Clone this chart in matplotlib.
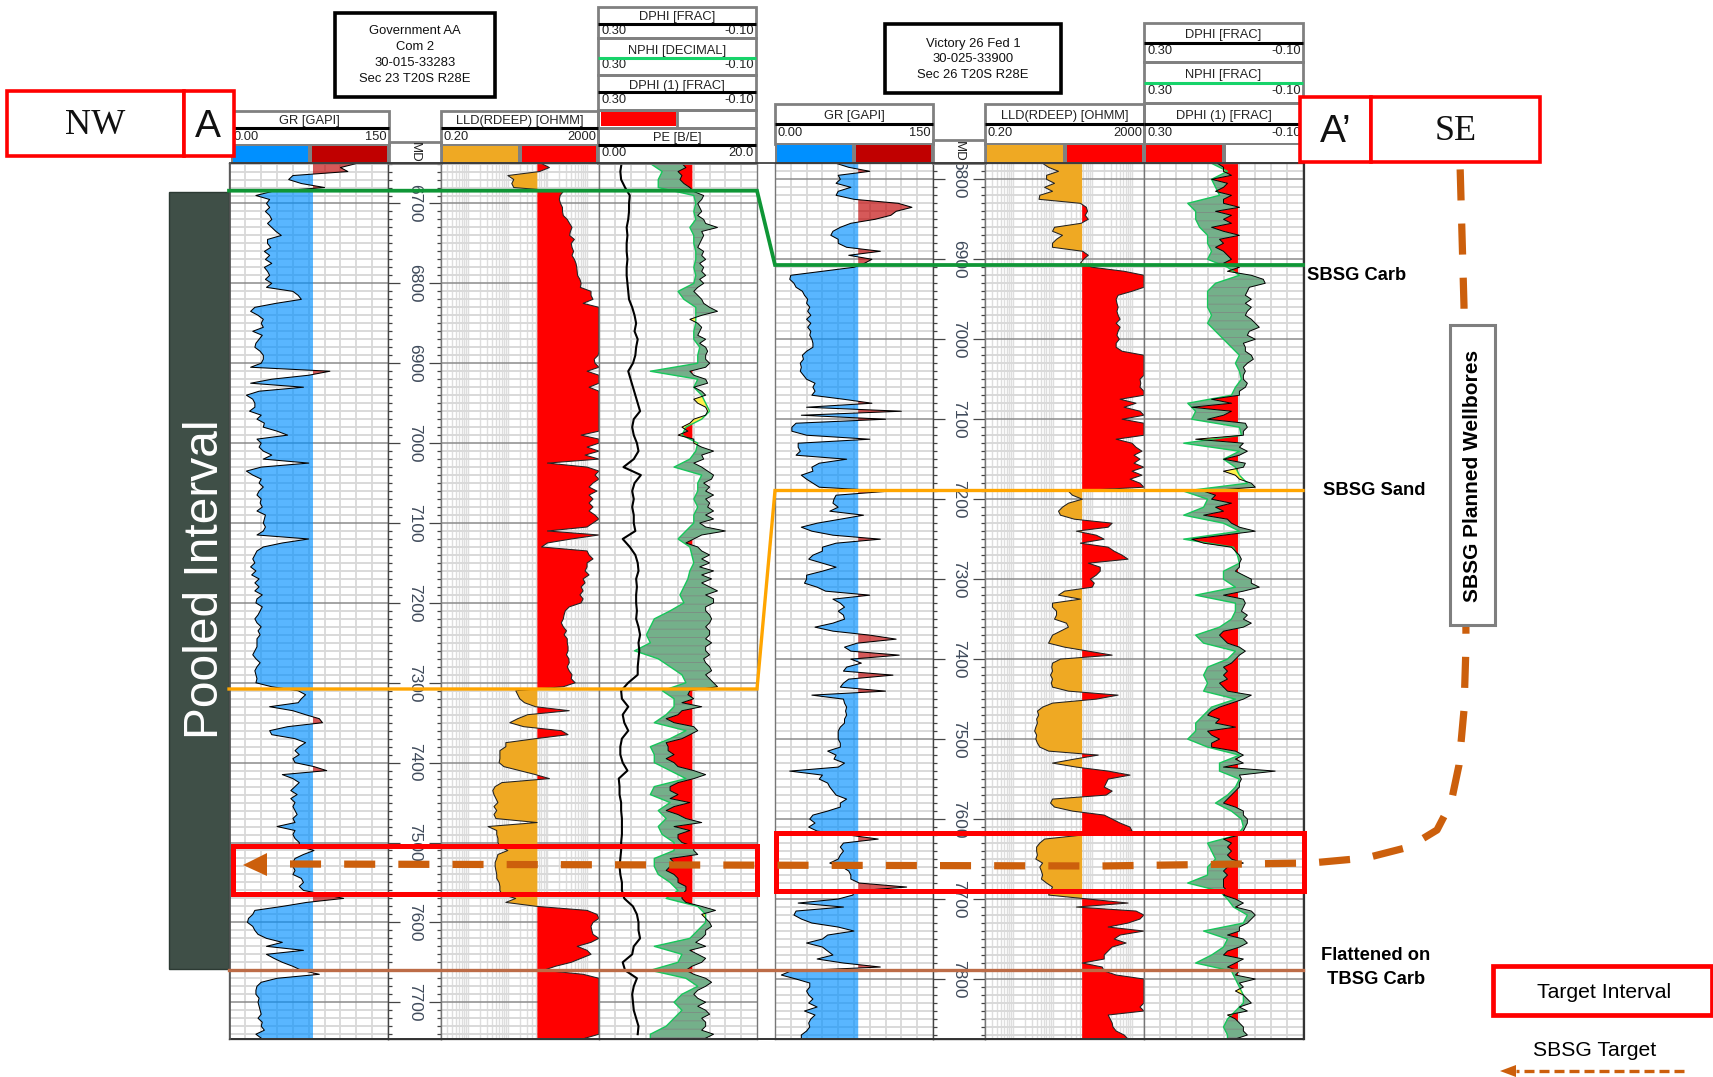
import numpy as np
import matplotlib
matplotlib.use("Agg")
import matplotlib.pyplot as plt
from matplotlib.patches import Rectangle, Polygon

plt.rcParams['hatch.linewidth'] = 0.6

W, H = 1713, 1077
NARROW = ['Liberation Sans Narrow', 'Liberation Sans']
SANS = ['Liberation Sans']
SERIF = ['Liberation Serif']

# ---------- left well: Government AA Com 2 (5 ft sampling from 6650 ft) ----------
L_START = 6650
L_GR = [120,105,112,60,56,68,90,40,25,38,35,38,34,38,40,36,40,44,49,36,
 36,39,33,38,34,40,33,36,38,34,40,35,60,65,68,44,24,20,27,32,
 30,32,22,31,28,25,24,29,32,32,30,20,95,75,40,20,70,28,16,22,
 24,24,19,30,26,33,32,45,55,26,30,28,32,40,32,75,30,16,22,30,
 28,32,28,26,30,29,31,26,34,33,32,34,32,26,75,50,32,26,24,22,
 24,20,25,21,28,24,28,24,31,26,25,31,29,27,24,26,30,27,29,26,
 26,26,24,22,25,29,26,24,25,26,25,40,65,72,68,65,38,60,72,85,
 88,55,38,40,62,72,66,62,66,60,62,80,92,50,60,66,62,58,64,58,
 62,60,62,64,60,62,45,62,60,62,66,66,80,70,62,60,60,62,60,68,
 70,66,70,90,108,73,50,24,22,18,17,22,24,27,35,50,35,70,35,42,
 50,60,68,85,45,30,26,25,25,28,27,28,29,30,27,31,30,33,25,30]
L_LLD = [1.85,2.05,1.8,1.0,1.15,1.1,1.15,2.4,2.32,2.3,2.33,2.38,2.38,2.4,2.5,2.56,2.62,2.58,2.56,2.68,
 2.6,2.62,2.66,2.62,2.68,2.72,2.74,2.75,2.76,2.82,2.85,2.83,3.1,3.1,3.15,2.9,3.3,3.3,3.3,3.3,
 3.3,3.3,3.3,3.3,3.3,3.3,3.3,3.3,3.28,3.18,3.2,3.3,3.0,3.3,3.3,3.3,3.05,3.3,3.3,3.3,
 3.3,3.3,3.3,3.3,3.3,3.3,3.3,3.3,2.85,3.3,3.3,3.0,3.3,2.95,3.3,2.0,3.0,3.3,3.2,3.3,
 3.15,3.05,3.25,3.05,3.15,3.05,3.15,3.05,3.2,3.3,3.15,3.0,2.0,3.3,2.6,2.0,1.85,3.0,3.05,3.15,
 3.0,3.0,2.95,3.05,2.9,2.95,2.85,2.9,2.82,2.9,2.85,2.55,2.45,2.42,2.4,2.35,2.4,2.48,2.42,2.5,
 2.5,2.52,2.52,2.48,2.54,2.55,2.5,2.55,2.62,2.6,2.7,2.4,1.2,1.25,1.3,1.42,1.7,2.55,1.5,1.25,
 1.05,1.4,2.35,2.52,1.7,0.95,0.95,0.8,0.8,0.8,0.78,0.9,1.3,1.7,2.05,0.85,0.68,0.62,0.65,0.7,
 0.75,0.65,0.72,0.65,0.7,1.74,0.5,0.72,0.72,0.75,0.75,0.8,1.0,0.75,0.72,0.68,0.68,0.7,0.72,0.72,
 0.78,0.8,0.8,0.85,1.2,0.95,1.74,3.0,3.25,3.3,3.15,3.1,3.12,3.15,3.3,3.1,2.75,3.0,3.1,2.85,
 2.6,2.2,1.9,2.9,3.3,3.3,3.3,3.3,3.3,3.3,3.3,3.3,3.3,3.3,3.3,3.3,3.3,3.3,3.3,2.95]
L_DPHI = [.09,.08,.1,.09,.095,.085,.07,.06,.035,.04,.05,.045,.04,.05,.035,.03,0,.04,.035,.04,
 .045,.05,.035,.04,.03,.045,.035,.04,.03,.045,.035,.05,.06,.05,.04,.035,.02,0,.04,.07,
 .05,.04,.045,.05,.03,.045,.03,.025,.03,.03,.02,.03,.07,.06,.03,.025,.06,.04,.03,.06,
 .05,.03,.025,.03,.06,.07,.09,.075,.1,.06,.06,.04,.01,.04,.035,.06,.04,.025,.01,.015,
 .035,.02,.03,.01,.03,.02,.025,.01,.03,.01,.045,.03,-.02,.04,.06,.08,.05,.04,.02,.04,
 .02,.045,.01,.04,.015,.04,.02,0,.03,.01,.01,.03,.03,.02,.015,.02,.03,.02,.02,.03,
 .015,.03,.03,.02,.035,.03,.02,.015,.03,.02,.01,0,.07,.075,.06,.09,.04,.09,.1,.13,
 .11,.06,.05,.07,.09,.13,.125,.125,.11,.13,.11,.1,.06,.03,.06,.1,.12,.12,.1,.12,
 .07,.11,.13,.1,.08,.04,.11,.07,.1,.1,.09,.06,.06,.05,.12,.11,.12,.13,.11,.1,
 .1,.08,.08,.09,.09,.08,.04,.005,.04,.03,.02,.015,.03,.03,.04,.055,.03,.07,.05,.03,
 .04,.065,.08,.06,.03,.015,.03,.05,.06,.05,.03,.05,.03,.02,.04,.03,.03,.04,.01,.03]
# NPHI and PE at 10 ft sampling
L_NPHI = [.17,.14,.15,.15,.06,.055,.06,.055,.07,.06,
 .06,.055,.055,.06,.055,.06,.1,.085,.055,.055,
 .055,.06,.06,.045,.05,.05,.17,.05,.06,.04,
 .03,.02,.04,.08,.09,.05,.055,.07,.11,.04,
 .05,.05,.06,.05,.06,.06,.08,.1,.07,.065,
 .06,.07,.075,.085,.095,.085,.12,.16,.17,.18,
 .17,.21,.15,.12,.09,.08,.14,.11,.11,.13,
 .16,.08,.12,.17,.16,.16,.12,.08,.16,.17,
 .12,.15,.13,.15,.14,.11,.11,.16,.16,.15,
 .12,.1,.13,.05,.03,.03,.05,.07,.16,.09,
 .1,.17,.08,.05,.09,.11,.09,.11,.13,.17]
L_PE = [2.85,2.7,2.8,3.3,3.9,3.8,3.8,3.7,3.5,3.6,
 3.5,3.5,3.6,3.5,3.5,3.6,3.7,3.8,4.2,4.5,
 4.7,4.5,4.9,4.7,4.6,4.3,3.7,4.0,4.3,4.6,
 4.9,5.2,4.4,4.2,4.4,4.8,5.0,4.4,3.1,5.3,
 4.5,4.2,4.4,4.2,4.4,4.4,4.6,3.0,3.9,4.6,
 4.9,5.0,4.7,4.8,4.7,4.7,4.8,4.7,5.0,5.2,
 5.0,5.1,5.0,4.9,4.9,3.7,2.8,2.9,3.7,3.0,
 3.2,3.7,2.9,2.7,2.7,3.0,3.6,2.5,2.6,2.6,
 2.8,2.8,2.9,2.9,2.9,2.8,2.8,2.7,2.6,2.7,
 2.9,2.9,3.2,4.3,4.8,5.0,5.0,5.2,4.4,4.2,
 3.0,3.3,4.8,4.4,4.2,4.3,4.4,4.7,5.0,4.9]

# ---------- right well: Victory 26 Fed 1 (5 ft sampling from 6780 ft) ----------
R_START = 6780
R_GR = [58,70,90,60,62,58,72,60,58,75,117,130,115,110,95,72,62,55,53,60,
 60,68,100,70,92,85,75,45,15,14,18,20,26,28,31,30,33,31,34,30,
 34,31,34,33,35,36,36,30,26,27,24,25,24,27,30,38,36,38,35,65,
 92,30,120,25,105,20,16,16,30,90,22,22,24,20,68,42,35,36,25,30,
 36,42,108,58,56,55,60,52,84,62,40,25,35,55,100,58,45,45,36,32,
 45,58,45,30,30,28,40,48,90,55,62,66,60,65,66,55,38,55,90,115,
 78,66,72,118,72,82,68,65,112,70,65,62,105,35,65,66,68,67,68,66,
 66,62,60,60,60,62,62,50,58,56,66,60,14,45,42,50,52,55,58,68,
 62,62,50,36,33,38,32,40,70,98,65,62,65,62,60,52,64,70,72,72,
 80,125,75,74,60,22,65,20,18,25,35,60,75,50,45,30,45,50,55,40,
 65,100,15,6,20,33,33,30,32,36,32,40,28,38,34,32,33,30,25,25]
R_LLD = [.75,.9,1.15,.85,.85,1.05,.8,1.0,.68,.66,1.7,1.85,1.88,1.82,1.9,1.72,1.05,1.0,1.25,1.1,
 1.0,1.0,1.76,1.9,1.78,1.7,2.0,2.8,3.3,3.3,3.3,3.3,3.0,2.65,2.6,2.62,2.65,2.62,2.65,2.7,
 2.6,2.7,2.65,2.62,2.68,2.6,2.6,2.75,3.3,3.3,3.3,3.3,3.3,3.3,3.2,3.22,3.2,3.3,3.3,2.7,
 3.1,2.8,3.2,3.3,2.75,3.3,3.3,3.3,3.3,2.6,3.0,3.1,3.25,3.05,3.2,3.05,3.3,3.0,3.25,2.95,
 3.2,3.3,1.4,1.5,1.75,1.4,1.25,1.15,1.2,1.55,2.5,2.4,1.6,2.1,2.3,1.7,2.4,2.55,2.75,2.9,
 1.9,2.2,2.2,2.1,1.95,2.05,2.0,1.3,1.15,1.7,1.0,1.0,1.1,1.1,1.05,1.35,1.4,1.2,1.0,.95,
 .9,1.3,1.9,2.5,1.2,1.0,.98,1.0,.95,1.0,.97,1.0,1.4,2.65,2.1,1.0,.75,.62,.65,.6,
 .62,.58,.55,.6,.58,.62,.68,.9,2.15,1.55,1.0,1.6,2.4,2.95,2.4,2.35,2.3,2.5,2.35,1.0,
 .95,1.05,1.5,2.3,2.5,2.7,2.95,3.0,1.74,.8,.68,.6,.6,.62,.58,.75,.68,.72,.75,.72,
 .85,1.0,.95,.9,1.9,2.9,1.6,3.1,3.3,3.2,2.9,2.4,3.3,2.7,2.55,2.85,2.5,2.4,2.3,2.3,
 1.75,2.25,2.3,2.6,3.3,3.3,3.3,3.3,3.3,3.3,3.3,3.2,3.3,2.4,2.45,2.5,2.52,2.6,2.8,2.9]
R_DPHI = [.115,.1,.1,.08,.13,.09,.1,.12,.08,.1,.1,.06,.12,.08,.1,.08,.13,.1,.06,.11,
 .1,.12,.1,.09,.08,.1,.06,.09,.03,0,-.005,.035,.04,.045,.03,.045,.03,.04,.045,.03,
 .02,.01,.035,.04,.02,.05,.045,.045,.03,.025,.04,.05,.045,.05,.05,.04,.045,.06,.06,.13,
 .08,.18,.08,.1,.14,.045,.04,.05,.05,.17,.05,.06,.04,.06,.1,.045,.05,.1,.07,.06,
 .03,.02,.15,.12,.13,.08,.12,.1,.15,.09,.08,.06,.02,.1,.18,.15,.08,.07,.06,.055,
 .06,.06,.07,.05,.03,.03,.01,.05,.1,.05,.045,.05,.055,.04,.05,.03,.05,.1,.11,.1,
 .09,.06,.045,.06,.07,.08,.1,.09,.1,.09,.11,.1,.09,.03,.05,.08,.11,.13,.14,.11,
 .12,.07,.14,.13,.11,.13,.13,.07,.05,.07,.05,.1,-.03,.06,.055,.06,.06,.07,.08,.09,
 .1,.07,.05,.05,.04,.04,.045,.05,.06,.1,.08,.09,.08,.09,.08,.05,.09,.1,.09,.1,
 .1,.1,.09,.1,.07,.05,.07,.03,.02,.03,.04,.06,.06,.09,.05,.04,.06,.09,.1,.05,
 .07,.09,.06,.07,.02,.06,.05,.07,.05,.04,.03,.06,.04,.09,.07,.06,.05,.05,.04,.07]
R_NPHI = [.13,.09,.13,.12,.11,.19,.17,.17,.16,.14,
 .14,.13,.14,.09,.06,.12,.14,.14,.14,.13,
 .14,.12,.1,.08,.06,.07,.06,.055,.07,.08,
 .19,.17,.18,.06,.055,.2,.06,.1,.07,.06,
 .04,.2,.14,.15,.2,.1,.06,.2,.075,.065,
 .06,.1,.1,.07,.17,.07,.07,.08,.11,.17,
 .15,.07,.09,.14,.15,.14,.15,.07,.13,.15,
 .17,.17,.19,.14,.06,.11,.11,.06,.07,.09,
 .12,.08,.055,.05,.065,.14,.13,.12,.14,.14,
 .19,.11,.09,.075,.04,.05,.15,.09,.1,.13,
 .17,.08,.07,.06,.05,.05,.07,.09,.1,.09]

L_DEPTH_LABELS = [6700,6800,6900,7000,7100,7200,7300,7400,7500,7600,7700]
R_DEPTH_LABELS = [6800,6900,7000,7100,7200,7300,7400,7500,7600,7700,7800]

C_BLUE, C_DRED, C_ORANGE, C_RED = '#0090ff', '#c00000', '#efa923', '#ff0000'
GRID_L, GRID_D = '#d9d9d9', '#8c8c8c'
GR_CUT, LLD_CUT, PHI_CUT = 79, 1.745, 0.0636

fig = plt.figure(figsize=(W/100, H/100), dpi=100, facecolor='white')

def track(x0, x1, ylim, zorder=1):
    y0, y1 = 163, 1039
    a = fig.add_axes([x0/W, 1-y1/H, (x1-x0)/W, (y1-y0)/H], zorder=zorder)
    a.set_ylim(*ylim)
    return a

def depth_grid(a, ylim):
    lo, hi = ylim[1], ylim[0]
    maj = np.arange(np.ceil(lo/100)*100, hi, 100)
    mnr = np.setdiff1d(np.arange(np.ceil(lo/10)*10, hi, 10), maj)
    a.set_yticks(maj)
    a.set_yticks(mnr, minor=True)
    a.tick_params(axis='y', which='both', length=0, labelleft=False)
    a.grid(True, axis='y', which='major', color=GRID_D, lw=1.1, zorder=0)
    a.grid(True, axis='y', which='minor', color=GRID_L, lw=1.4, zorder=0)
    a.set_axisbelow(True)

def style(a):
    for s in a.spines.values():
        s.set_color('#777777'); s.set_linewidth(1.0)

def gr_track(x0, x1, ylim, depth, gr):
    a = track(x0, x1, ylim)
    a.set_xlim(0, 150)
    depth_grid(a, ylim)
    a.set_xticks(np.arange(15, 150, 15)); a.tick_params(axis='x', length=0, labelbottom=False)
    a.grid(True, axis='x', color=GRID_L, lw=1.3)
    gr = np.array(gr, float)
    a.fill_betweenx(depth, gr, GR_CUT, where=gr <= GR_CUT, interpolate=True, color=C_BLUE, alpha=.65, lw=0)
    a.fill_betweenx(depth, gr, GR_CUT, where=gr >= GR_CUT, interpolate=True, color=C_DRED, alpha=.65, lw=0)
    a.plot(gr, depth, color='black', lw=.75)
    style(a)
    return a

def lld_track(x0, x1, ylim, depth, lld):
    a = track(x0, x1, ylim)
    a.set_xlim(np.log10(.2), np.log10(2000))
    depth_grid(a, ylim)
    ticks = [np.log10(m*10.0**e) for e in range(-1, 4) for m in range(1, 10)
             if .2 < m*10.0**e < 2000]
    a.set_xticks(ticks); a.tick_params(axis='x', length=0, labelbottom=False)
    a.grid(True, axis='x', color='#dedede', lw=1.0)
    lld = np.array(lld, float)
    a.fill_betweenx(depth, lld, LLD_CUT, where=lld <= LLD_CUT, interpolate=True, color=C_ORANGE, lw=0)
    a.fill_betweenx(depth, lld, LLD_CUT, where=lld >= LLD_CUT, interpolate=True, color=C_RED, lw=0)
    a.plot(lld, depth, color='#222222', lw=.75)
    style(a)
    return a

def phi_track(x0, x1, ylim, depth, dphi, ndepth, nphi):
    a = track(x0, x1, ylim)
    a.set_xlim(.30, -.10)
    depth_grid(a, ylim)
    a.set_xticks(np.arange(.26, -.10, -.04)); a.tick_params(axis='x', length=0, labelbottom=False)
    a.grid(True, axis='x', color=GRID_L, lw=1.3)
    dphi = np.array(dphi, float)
    nf = np.interp(depth, ndepth, nphi)
    a.fill_betweenx(depth, dphi, PHI_CUT, where=dphi >= PHI_CUT, interpolate=True, color=C_RED, lw=0)
    a.fill_betweenx(depth, nf, dphi, where=nf >= dphi, interpolate=True, facecolor='#74b08a',
                    edgecolor='#7d8c83', hatch='--', lw=0, zorder=2.2)
    a.fill_betweenx(depth, nf, dphi, where=nf <= dphi, interpolate=True, color='#fff04a', lw=0, zorder=2.2)
    a.plot(nf, depth, color='#17c75b', lw=1.0, zorder=2.5)
    a.plot(dphi, depth, color='black', lw=.7, zorder=2.6)
    style(a)
    return a

def depth_track(x0, x1, ylim, labels):
    a = track(x0, x1, ylim)
    a.set_xlim(0, 1)
    lo, hi = ylim[1], ylim[0]
    maj = np.arange(np.ceil(lo/100)*100, hi, 100)
    a.set_yticks(maj)
    a.set_yticks(np.setdiff1d(np.arange(np.ceil(lo/10)*10, hi, 10), maj), minor=True)
    a.tick_params(axis='y', which='major', direction='in', length=8.5, width=.9, left=True, right=True,
                  labelleft=False, color='#444444')
    a.tick_params(axis='y', which='minor', direction='in', length=3.2, width=.9, left=True, right=True,
                  color='#444444')
    a.set_xticks([])
    for v in labels:
        a.text(.5, v, str(v), rotation=-90, ha='center', va='center', fontsize=12.5,
               family=SANS, color='#3f4a5a', clip_on=True)
    for s in a.spines.values():
        s.set_color('#444444'); s.set_linewidth(1.0)
    return a

# left well
L_YLIM = (7746, 6649.3)
gr_track(229.5, 388, L_YLIM, L_START + 5*np.arange(len(L_GR)), L_GR)
depth_track(388, 440.5, L_YLIM, L_DEPTH_LABELS)
lld_track(440.5, 599, L_YLIM, L_START + 5*np.arange(len(L_LLD)), L_LLD)
ap = phi_track(599, 757, L_YLIM, L_START + 5*np.arange(len(L_DPHI)), L_DPHI,
               L_START + 10*np.arange(len(L_NPHI)), L_NPHI)
pe = ap.twiny(); pe.set_xlim(0, 20); pe.axis('off')
pe.plot(L_PE, L_START + 10*np.arange(len(L_PE)), color='black', lw=1.5)

# right well
R_YLIM = (7875, 6779.6)
gr_track(775, 933, R_YLIM, R_START + 5*np.arange(len(R_GR)), R_GR)
depth_track(933, 985, R_YLIM, R_DEPTH_LABELS)
lld_track(985, 1144, R_YLIM, R_START + 5*np.arange(len(R_LLD)), R_LLD)
phi_track(1144, 1303, R_YLIM, R_START + 5*np.arange(len(R_DPHI)), R_DPHI,
          R_START + 10*np.arange(len(R_NPHI)), R_NPHI)

# ---------- overlay in figure pixels: headers, correlations, annotations ----------
ov = fig.add_axes([0, 0, 1, 1], zorder=10)
ov.set_xlim(0, W); ov.set_ylim(H, 0); ov.axis('off'); ov.patch.set_alpha(0)

def box(x0, y0, x1, y1, ec='#808080', lw=2.0, fc='none', z=3):
    ov.add_patch(Rectangle((x0, y0), x1-x0, y1-y0, fc=fc, ec=ec, lw=lw, zorder=z))

def hdr(x0, x1, y_label, y_bar, y_vals, label, lo, hi, bar='black', y_top=None, y_bot=None):
    if y_top is not None:
        box(x0, y_top, x1, y_bot)
    ov.plot([x0, x1], [y_bar, y_bar], color=bar, lw=2.2, solid_capstyle='butt', zorder=4)
    kw = dict(va='center', fontsize=9.3, family=NARROW, color='#222222')
    ov.text((x0+x1)/2, y_label, label, ha='center', **kw)
    ov.text(x0+3, y_vals, lo, ha='left', **kw)
    ov.text(x1-2, y_vals, hi, ha='right', **kw)

def swatches(x0, x1, y0, y1, c1, c2):
    xm = (x0+x1)/2
    ov.add_patch(Rectangle((x0, y0), x1-x0, y1-y0, fc='#808080', ec='none', zorder=3))
    ov.add_patch(Rectangle((x0+2, y0+2), xm-x0-4, y1-y0-3, fc=c1, ec='none', zorder=4))
    ov.add_patch(Rectangle((xm+2, y0+2), x1-xm-4, y1-y0-3, fc=c2, ec='none', zorder=4))

# left headers
hdr(230, 389, 121, 128, 137, 'GR [GAPI]', '0.00', '150', y_top=110.5, y_bot=145)
swatches(231, 389, 144, 163, C_BLUE, C_DRED)
box(389, 142, 441, 163)
ov.text(415, 152, 'MD', rotation=-90, ha='center', va='center', fontsize=9.5, family=NARROW, color='#222222')
hdr(441, 598, 121, 128, 137, 'LLD(RDEEP) [OHMM]', '0.20', '2000', y_top=110.5, y_bot=145)
swatches(441, 598, 144, 163, C_ORANGE, C_RED)
box(598, 7, 756, 38)
hdr(598, 756, 17, 23.5, 31, 'DPHI [FRAC]', '0.30', '-0.10')
box(598, 38, 756, 75)
hdr(598, 756, 51, 57.5, 65, 'NPHI [DECIMAL]', '0.30', '-0.10', bar='#17d36a')
box(598, 75, 756, 110)
hdr(598, 756, 86, 92, 100, 'DPHI (1) [FRAC]', '0.30', '-0.10')
ov.add_patch(Rectangle((601, 112), 75, 14, fc=C_RED, ec='none', zorder=4))
ov.plot([677, 677], [110, 128], color='#808080', lw=2, zorder=3)
box(598, 110, 756, 128)
box(598, 128, 756, 163)
hdr(598, 756, 138, 144.5, 152.5, 'PE [B/E]', '0.00', '20.0')

# right headers
hdr(775, 933, 116, 124, 132.5, 'GR [GAPI]', '0.00', '150', y_top=103.5, y_bot=144)
swatches(775, 933, 143, 163, C_BLUE, C_DRED)
box(933, 140, 985, 163)
ov.text(959, 151, 'MD', rotation=-90, ha='center', va='center', fontsize=9.5, family=NARROW, color='#222222')
hdr(985, 1144, 116, 124, 132.5, 'LLD(RDEEP) [OHMM]', '0.20', '2000', y_top=103.5, y_bot=144)
swatches(985, 1144, 143, 163, C_ORANGE, C_RED)
box(1144, 23, 1303, 62)
hdr(1144, 1303, 35, 43, 51, 'DPHI [FRAC]', '0.30', '-0.10')
box(1144, 62, 1303, 103)
hdr(1144, 1303, 75, 83, 91, 'NPHI [FRAC]', '0.30', '-0.10', bar='#17d36a')
box(1144, 103, 1303, 144)
hdr(1144, 1303, 116, 124, 132.5, 'DPHI (1) [FRAC]', '0.30', '-0.10')
swatches(1144, 1303, 143, 163, C_RED, 'white')

# well titles
box(335, 12.5, 495, 97, ec='black', lw=2.6, fc='white')
for yy, s in zip([31.5, 47.5, 63.5, 79.5], ['Government AA', 'Com 2', '30-015-33283', 'Sec 23 T20S R28E']):
    ov.text(415, yy, s, ha='center', va='center', fontsize=9.4, family=SANS, color='#111111', zorder=5)
box(885, 23.5, 1061, 92.5, ec='black', lw=2.6, fc='white')
for yy, s in zip([43.5, 59.5, 75.5], ['Victory 26 Fed 1', '30-025-33900', 'Sec 26 T20S R28E']):
    ov.text(973, yy, s, ha='center', va='center', fontsize=9.4, family=SANS, color='#111111', zorder=5)

# section end labels
box(7, 90.5, 183.5, 156, ec=C_RED, lw=2.6, fc='white', z=5)
box(183.5, 90.5, 234, 156, ec=C_RED, lw=2.6, fc='white', z=5)
ov.text(95, 126, 'NW', ha='center', va='center', fontsize=26, family=SERIF, color='#111111', zorder=6)
ov.text(207.5, 127, 'A', ha='center', va='center', fontsize=28, family=SANS, color='#111111', zorder=6)
box(1300, 96.5, 1371, 162, ec=C_RED, lw=2.6, fc='white', z=5)
box(1371, 96.5, 1540, 162, ec=C_RED, lw=2.6, fc='white', z=5)
ov.text(1336, 132, 'A\u2019', ha='center', va='center', fontsize=28, family=SANS, color='#111111', zorder=6)
ov.text(1456, 132, 'SE', ha='center', va='center', fontsize=26, family=SERIF, color='#111111', zorder=6)

# pooled interval
ov.add_patch(Rectangle((169, 192), 60, 777, fc='#3f4f47', ec='#2c3a33', lw=1, zorder=3))
ov.text(205, 579, 'Pooled Interval', rotation=90, ha='center', va='center', fontsize=34.5,
        family=SANS, color='white', zorder=4)

# frame around both wells
ov.plot([229.5, 1304], [163, 163], color='#333333', lw=1.2, zorder=4)
ov.plot([229.5, 1304], [1039, 1039], color='#333333', lw=1.4, zorder=4)
ov.plot([229.5, 229.5], [163, 1039], color='#555555', lw=1.2, zorder=4)
ov.plot([1304, 1304], [163, 1039], color='#333333', lw=1.6, zorder=4)

# correlation lines
ov.plot([229, 757, 775, 1303], [190.7, 190.7, 265, 265], color='#0f9636', lw=2.7, zorder=5,
        solid_joinstyle='miter')
ov.plot([229, 757, 775, 1303], [689, 689, 490.5, 490.5], color='#ffa500', lw=2.4, zorder=5,
        solid_joinstyle='miter')
ov.plot([229, 1303], [970, 970], color='#bd6c47', lw=2.4, zorder=5)

# target boxes
box(232.5, 846, 757, 894, ec=C_RED, lw=3.6, z=6)
box(776, 833, 1304, 891, ec=C_RED, lw=3.6, z=6)

# planned wellbore path
path_x = [290, 1100, 1311, 1366, 1409, 1437, 1451, 1459, 1464, 1466, 1464, 1460]
path_y = [864, 866, 863, 858, 847, 830, 803, 765, 710, 645, 306, 163]
ov.plot(path_x, path_y, color='#cc5f0c', lw=5.2, dashes=(4.3, 3.2), dash_capstyle='butt', zorder=7)
ov.add_patch(Polygon([[243, 865], [267, 853], [267, 876]], fc='#cc5f0c', ec='none', zorder=7))

# planned wellbores box
box(1449.5, 325, 1494.5, 625, ec='#7f7f7f', lw=2.2, fc='white', z=8)
ov.text(1472, 476, 'SBSG Planned Wellbores', rotation=90, ha='center', va='center', fontsize=15,
        fontweight='bold', family=SANS, color='black', zorder=9)

# labels
bold = dict(va='center', fontsize=13.2, fontweight='bold', family=SANS, zorder=9)
ov.text(1307, 275.5, 'SBSG Carb', ha='left', **bold)
ov.text(1374, 490.5, 'SBSG Sand', ha='center', **bold)
ov.text(1376, 956, 'Flattened on', ha='center', **bold)
ov.text(1376, 979, 'TBSG Carb', ha='center', **bold)

# legend
box(1493, 966, 1712, 1015, ec=C_RED, lw=3.4, z=6)
ov.text(1604, 993, 'Target Interval', ha='center', va='center', fontsize=15.2, family=SANS, zorder=9)
ov.text(1595, 1051, 'SBSG Target', ha='center', va='center', fontsize=15.2, family=SANS, zorder=9)
ov.plot([1684, 1516], [1071, 1071], color='#cc5f0c', lw=2.4, dashes=(3, 1.5), zorder=7)
ov.add_patch(Polygon([[1500, 1071], [1516, 1065], [1516, 1077]], fc='#cc5f0c', ec='none', zorder=7))

fig.savefig('out.png', dpi=100, facecolor='white')
